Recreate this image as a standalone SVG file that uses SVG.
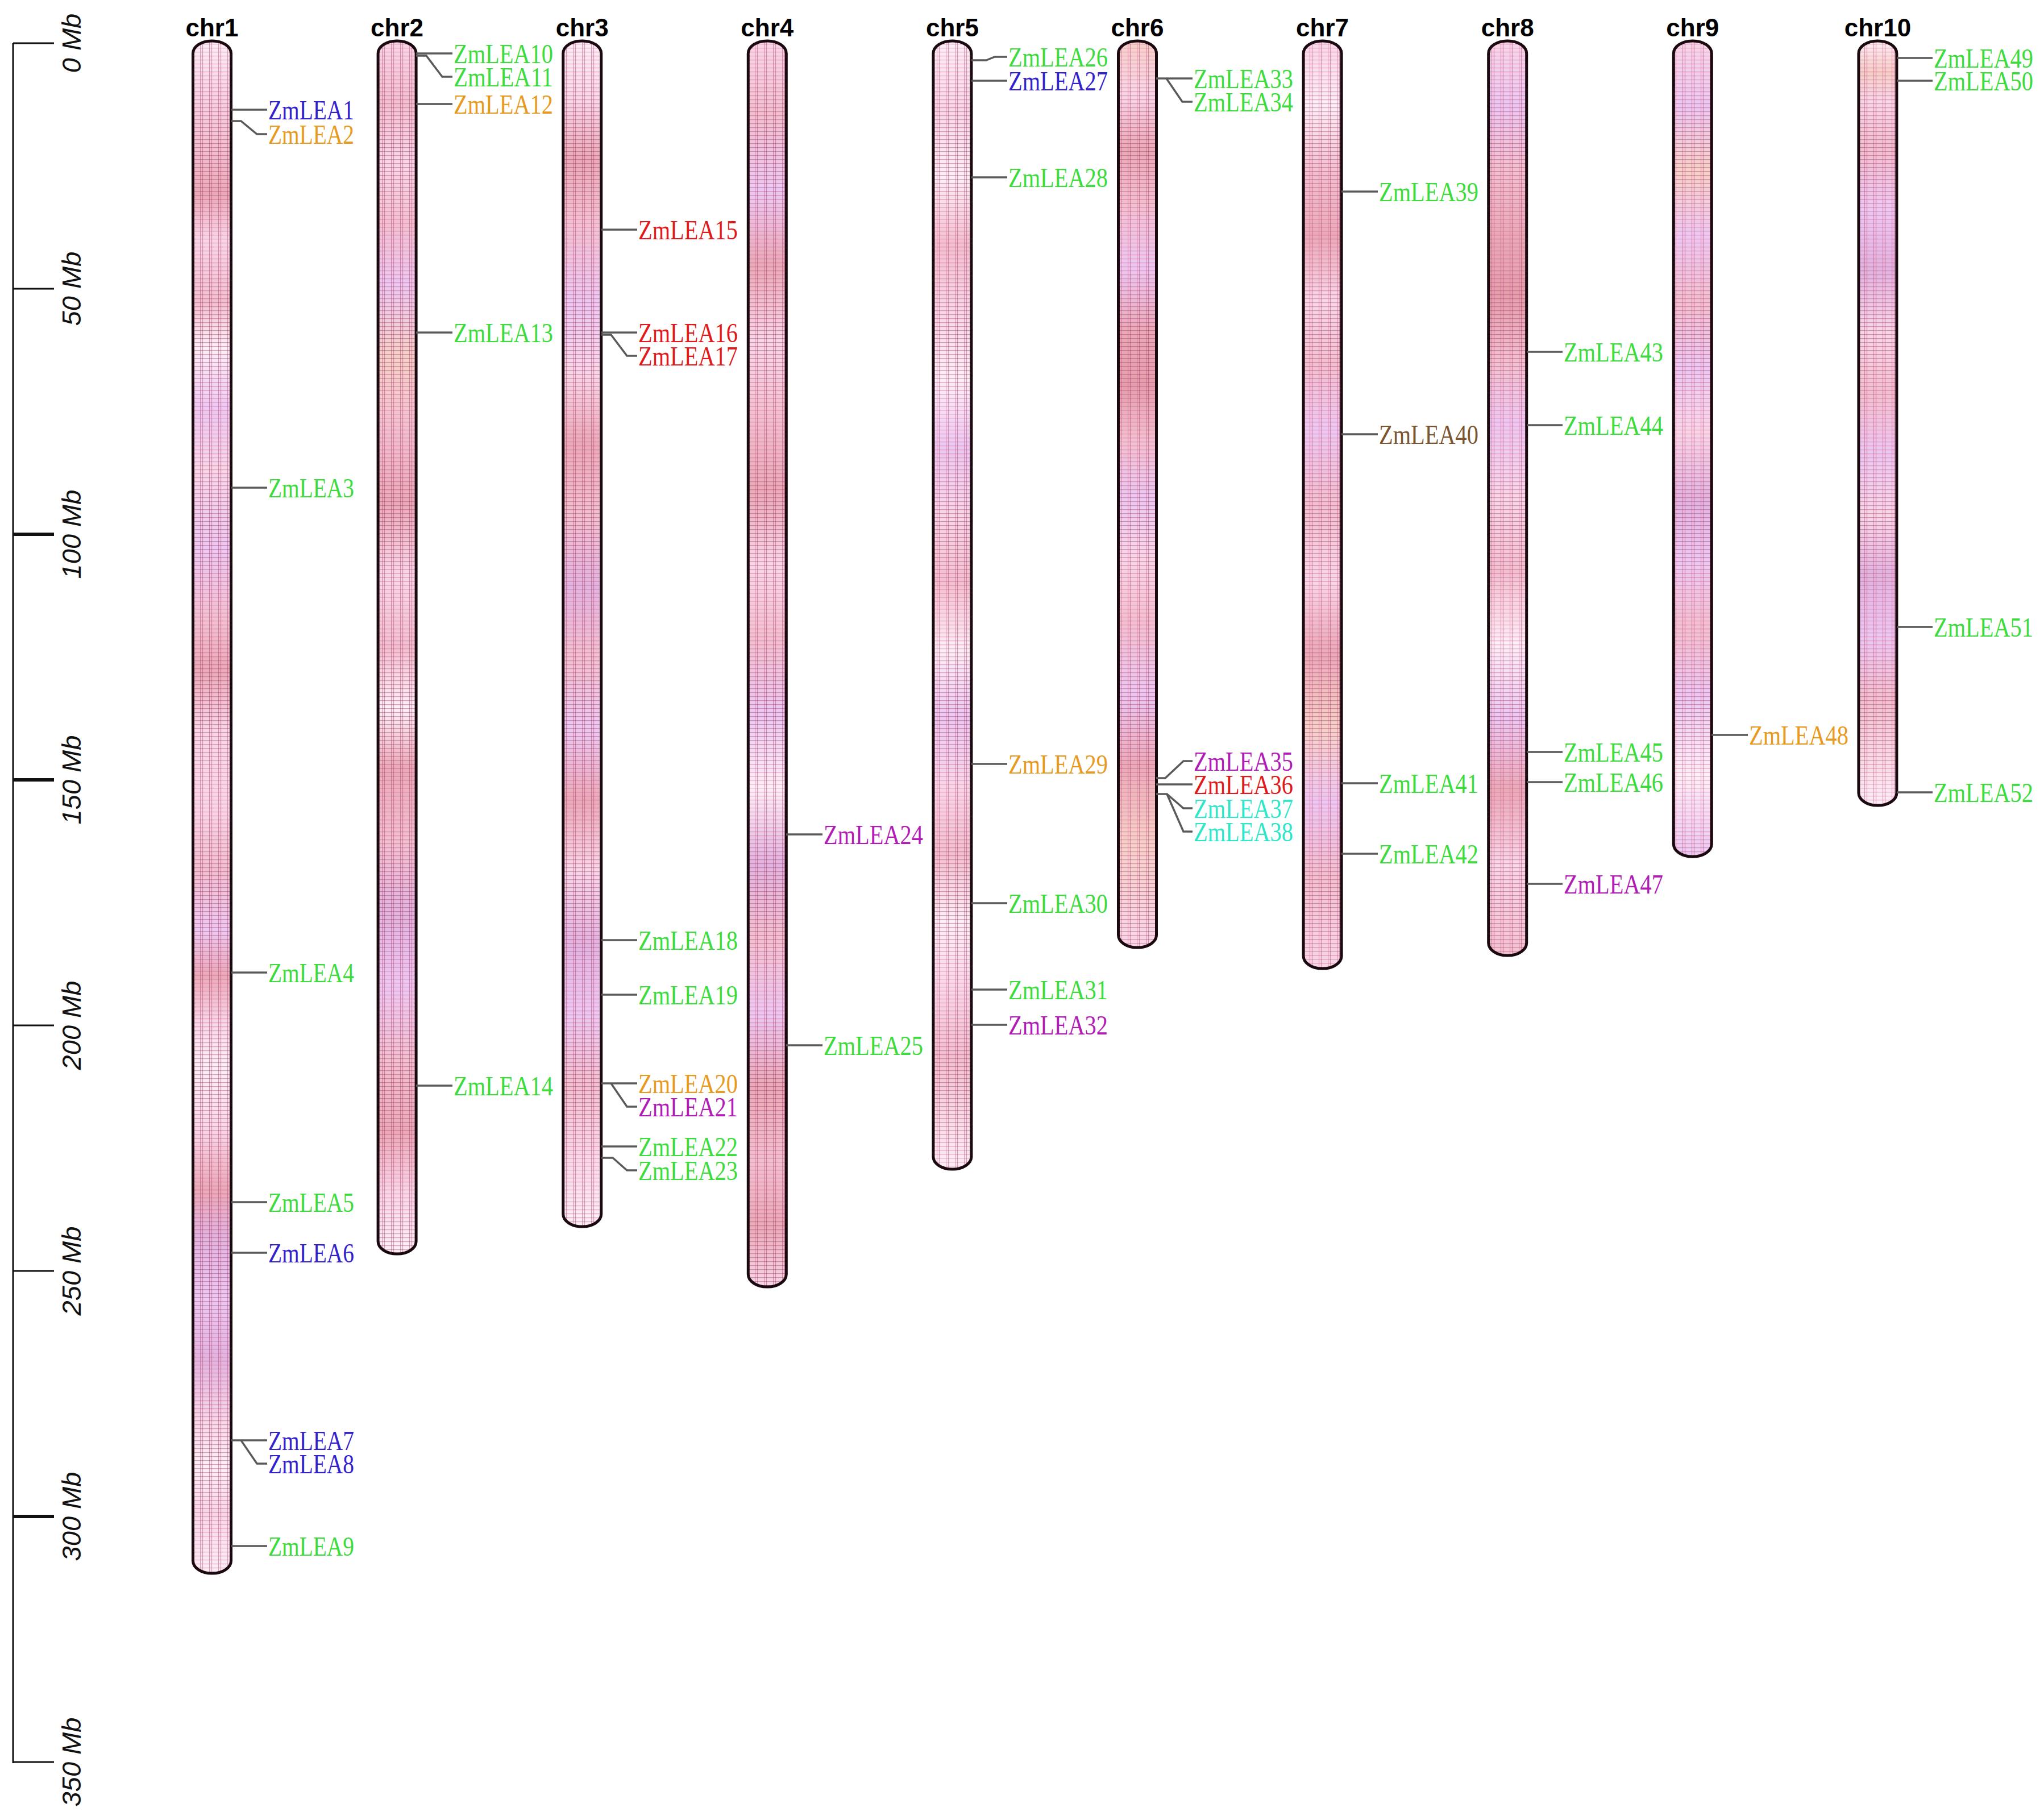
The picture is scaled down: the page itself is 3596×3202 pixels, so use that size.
<svg xmlns="http://www.w3.org/2000/svg" width="3596" height="3202" viewBox="0 0 3596 3202">
<style>
.chrlab{font-family:"Liberation Sans",Arial,sans-serif;font-weight:bold;font-size:44px;text-anchor:middle;fill:#000}
.ax{font-family:"Liberation Sans",Arial,sans-serif;font-style:italic;font-size:47px;text-anchor:middle;fill:#111}
.g{font-family:"Liberation Serif","Times New Roman",serif;font-size:48px}
.gr{fill:#3cdc3c}.bl{fill:#3322cc}.or{fill:#e89a1e}.rd{fill:#e01a1a}.mg{fill:#b01cb4}.cy{fill:#2ee6c8}.br{fill:#7a5530}
.con{fill:none;stroke:#5a5a5a;stroke-width:3.5}
.outline{fill:none;stroke:#1a0a10;stroke-width:5}
.grid{fill:url(#grid);stroke:none}
.tick{stroke:#111;stroke-width:3}
.tickb{stroke:#111;stroke-width:6}
</style>
<defs>
<pattern id="grid" patternUnits="userSpaceOnUse" width="16" height="7">
<path d="M0.5,0 V7 M4.5,0 V7" stroke="#a02a5a" stroke-opacity="0.42" stroke-width="1.2"/>
<path d="M0,0.5 H16" stroke="#a02a5a" stroke-opacity="0.4" stroke-width="1.3"/>
</pattern>
<linearGradient id="b1" x1="0" y1="0" x2="0" y2="1">
<stop offset="0" stop-color="#fdeef7"/><stop offset=".03" stop-color="#f8d6e8"/><stop offset=".07" stop-color="#f2c0d0"/><stop offset=".10" stop-color="#eaaab8"/><stop offset=".13" stop-color="#f8d6e8"/><stop offset=".17" stop-color="#f2c0d0"/><stop offset=".20" stop-color="#fdeef7"/><stop offset=".24" stop-color="#ecc8f2"/><stop offset=".28" stop-color="#f8d6e8"/><stop offset=".33" stop-color="#ecc8f2"/><stop offset=".38" stop-color="#f2c0d0"/><stop offset=".41" stop-color="#eaaab8"/><stop offset=".45" stop-color="#f8d6e8"/><stop offset=".50" stop-color="#f8d6e8"/><stop offset=".54" stop-color="#f2c0d0"/><stop offset=".58" stop-color="#ecc8f2"/><stop offset=".61" stop-color="#eaaab8"/><stop offset=".64" stop-color="#f8d6e8"/><stop offset=".67" stop-color="#fdeef7"/><stop offset=".71" stop-color="#f8d6e8"/><stop offset=".75" stop-color="#eaaab8"/><stop offset=".78" stop-color="#e2b4e0"/><stop offset=".82" stop-color="#ecc8f2"/><stop offset=".86" stop-color="#e2b4e0"/><stop offset=".90" stop-color="#f8d6e8"/><stop offset=".93" stop-color="#fdeef7"/><stop offset=".96" stop-color="#f8d6e8"/><stop offset="1" stop-color="#fdeef7"/>
</linearGradient>
<linearGradient id="b2" x1="0" y1="0" x2="0" y2="1">
<stop offset="0" stop-color="#f8d6e8"/><stop offset=".05" stop-color="#f2c0d0"/><stop offset=".10" stop-color="#f8d6e8"/><stop offset=".15" stop-color="#f2c0d0"/><stop offset=".20" stop-color="#ecc8f2"/><stop offset=".26" stop-color="#f6d0c8"/><stop offset=".32" stop-color="#f2c0d0"/><stop offset=".38" stop-color="#eaaab8"/><stop offset=".44" stop-color="#f8d6e8"/><stop offset=".50" stop-color="#f2c0d0"/><stop offset=".55" stop-color="#fdeef7"/><stop offset=".60" stop-color="#eaaab8"/><stop offset=".66" stop-color="#f2c0d0"/><stop offset=".72" stop-color="#e2b4e0"/><stop offset=".78" stop-color="#ecc8f2"/><stop offset=".84" stop-color="#f2c0d0"/><stop offset=".90" stop-color="#eaaab8"/><stop offset=".95" stop-color="#f8d6e8"/><stop offset="1" stop-color="#fdeef7"/>
</linearGradient>
<linearGradient id="b3" x1="0" y1="0" x2="0" y2="1">
<stop offset="0" stop-color="#fdeef7"/><stop offset=".05" stop-color="#f8d6e8"/><stop offset=".10" stop-color="#eaaab8"/><stop offset=".15" stop-color="#f2c0d0"/><stop offset=".22" stop-color="#ecc8f2"/><stop offset=".28" stop-color="#f8d6e8"/><stop offset=".34" stop-color="#eaaab8"/><stop offset=".40" stop-color="#f2c0d0"/><stop offset=".46" stop-color="#e2b4e0"/><stop offset=".52" stop-color="#f2c0d0"/><stop offset=".58" stop-color="#ecc8f2"/><stop offset=".64" stop-color="#eaaab8"/><stop offset=".70" stop-color="#f8d6e8"/><stop offset=".76" stop-color="#e2b4e0"/><stop offset=".82" stop-color="#ecc8f2"/><stop offset=".88" stop-color="#f2c0d0"/><stop offset=".94" stop-color="#f8d6e8"/><stop offset="1" stop-color="#fdeef7"/>
</linearGradient>
<linearGradient id="b4" x1="0" y1="0" x2="0" y2="1">
<stop offset="0" stop-color="#f8d6e8"/><stop offset=".06" stop-color="#f2c0d0"/><stop offset=".12" stop-color="#ecc8f2"/><stop offset=".18" stop-color="#eaaab8"/><stop offset=".24" stop-color="#f8d6e8"/><stop offset=".30" stop-color="#f2c0d0"/><stop offset=".36" stop-color="#eaaab8"/><stop offset=".42" stop-color="#f8d6e8"/><stop offset=".48" stop-color="#f2c0d0"/><stop offset=".54" stop-color="#ecc8f2"/><stop offset=".60" stop-color="#fdeef7"/><stop offset=".66" stop-color="#e2b4e0"/><stop offset=".72" stop-color="#f2c0d0"/><stop offset=".78" stop-color="#ecc8f2"/><stop offset=".84" stop-color="#eaaab8"/><stop offset=".90" stop-color="#f2c0d0"/><stop offset=".95" stop-color="#eaaab8"/><stop offset="1" stop-color="#f8d6e8"/>
</linearGradient>
<linearGradient id="b5" x1="0" y1="0" x2="0" y2="1">
<stop offset="0" stop-color="#fdeef7"/><stop offset=".06" stop-color="#f8d6e8"/><stop offset=".12" stop-color="#fdeef7"/><stop offset=".18" stop-color="#f2c0d0"/><stop offset=".24" stop-color="#f8d6e8"/><stop offset=".30" stop-color="#fdeef7"/><stop offset=".36" stop-color="#ecc8f2"/><stop offset=".42" stop-color="#f8d6e8"/><stop offset=".48" stop-color="#f2c0d0"/><stop offset=".54" stop-color="#fdeef7"/><stop offset=".60" stop-color="#ecc8f2"/><stop offset=".66" stop-color="#f8d6e8"/><stop offset=".72" stop-color="#f2c0d0"/><stop offset=".78" stop-color="#fdeef7"/><stop offset=".84" stop-color="#f8d6e8"/><stop offset=".90" stop-color="#f2c0d0"/><stop offset="1" stop-color="#fdeef7"/>
</linearGradient>
<linearGradient id="b6" x1="0" y1="0" x2="0" y2="1">
<stop offset="0" stop-color="#f6d0c8"/><stop offset=".06" stop-color="#f8d6e8"/><stop offset=".12" stop-color="#eaaab8"/><stop offset=".18" stop-color="#f2c0d0"/><stop offset=".25" stop-color="#ecc8f2"/><stop offset=".32" stop-color="#eaaab8"/><stop offset=".38" stop-color="#e49eac"/><stop offset=".44" stop-color="#f2c0d0"/><stop offset=".50" stop-color="#ecc8f2"/><stop offset=".57" stop-color="#f8d6e8"/><stop offset=".64" stop-color="#f2c0d0"/><stop offset=".72" stop-color="#ecc8f2"/><stop offset=".80" stop-color="#eaaab8"/><stop offset=".88" stop-color="#f6d0c8"/><stop offset="1" stop-color="#f8d6e8"/>
</linearGradient>
<linearGradient id="b7" x1="0" y1="0" x2="0" y2="1">
<stop offset="0" stop-color="#f8d6e8"/><stop offset=".07" stop-color="#fdeef7"/><stop offset=".14" stop-color="#f2c0d0"/><stop offset=".21" stop-color="#eaaab8"/><stop offset=".28" stop-color="#f8d6e8"/><stop offset=".35" stop-color="#f2c0d0"/><stop offset=".42" stop-color="#ecc8f2"/><stop offset=".50" stop-color="#f2c0d0"/><stop offset=".58" stop-color="#f8d6e8"/><stop offset=".66" stop-color="#eaaab8"/><stop offset=".74" stop-color="#f6d0c8"/><stop offset=".82" stop-color="#ecc8f2"/><stop offset=".90" stop-color="#f2c0d0"/><stop offset="1" stop-color="#f8d6e8"/>
</linearGradient>
<linearGradient id="b8" x1="0" y1="0" x2="0" y2="1">
<stop offset="0" stop-color="#f8d6e8"/><stop offset=".07" stop-color="#ecc8f2"/><stop offset=".14" stop-color="#f2c0d0"/><stop offset=".21" stop-color="#eaaab8"/><stop offset=".28" stop-color="#e49eac"/><stop offset=".35" stop-color="#f2c0d0"/><stop offset=".42" stop-color="#ecc8f2"/><stop offset=".50" stop-color="#f8d6e8"/><stop offset=".58" stop-color="#f2c0d0"/><stop offset=".66" stop-color="#fdeef7"/><stop offset=".74" stop-color="#ecc8f2"/><stop offset=".82" stop-color="#eaaab8"/><stop offset=".90" stop-color="#f8d6e8"/><stop offset="1" stop-color="#f2c0d0"/>
</linearGradient>
<linearGradient id="b9" x1="0" y1="0" x2="0" y2="1">
<stop offset="0" stop-color="#f8d6e8"/><stop offset=".08" stop-color="#ecc8f2"/><stop offset=".16" stop-color="#f6d0c8"/><stop offset=".24" stop-color="#ecc8f2"/><stop offset=".32" stop-color="#f2c0d0"/><stop offset=".40" stop-color="#ecc8f2"/><stop offset=".48" stop-color="#f8d6e8"/><stop offset=".56" stop-color="#e2b4e0"/><stop offset=".64" stop-color="#ecc8f2"/><stop offset=".72" stop-color="#f2c0d0"/><stop offset=".80" stop-color="#ecc8f2"/><stop offset=".90" stop-color="#fdeef7"/><stop offset="1" stop-color="#ecc8f2"/>
</linearGradient>
<linearGradient id="b10" x1="0" y1="0" x2="0" y2="1">
<stop offset="0" stop-color="#fdeef7"/><stop offset=".04" stop-color="#f6d0c8"/><stop offset=".08" stop-color="#f8d6e8"/><stop offset=".14" stop-color="#f2c0d0"/><stop offset=".22" stop-color="#ecc8f2"/><stop offset=".30" stop-color="#e2b4e0"/><stop offset=".38" stop-color="#f8d6e8"/><stop offset=".46" stop-color="#f2c0d0"/><stop offset=".54" stop-color="#ecc8f2"/><stop offset=".62" stop-color="#f8d6e8"/><stop offset=".70" stop-color="#e2b4e0"/><stop offset=".78" stop-color="#ecc8f2"/><stop offset=".86" stop-color="#f2c0d0"/><stop offset="1" stop-color="#fdeef7"/>
</linearGradient>
</defs>
<rect width="3596" height="3202" fill="#fff"/>

<g id="scale">
<line x1="23" y1="76" x2="23" y2="3102" class="tick"/>
<line x1="23" y1="76" x2="95" y2="76" class="tick"/>
<line x1="23" y1="508" x2="95" y2="508" class="tick"/>
<line x1="23" y1="940" x2="95" y2="940" class="tickb"/>
<line x1="23" y1="1372" x2="95" y2="1372" class="tickb"/>
<line x1="23" y1="1804" x2="95" y2="1804" class="tick"/>
<line x1="23" y1="2236" x2="95" y2="2236" class="tick"/>
<line x1="23" y1="2668" x2="95" y2="2668" class="tickb"/>
<line x1="23" y1="3100" x2="95" y2="3100" class="tick"/>
<text class="ax" transform="translate(142,76) rotate(-90)">0 Mb</text>
<text class="ax" transform="translate(142,508) rotate(-90)">50 Mb</text>
<text class="ax" transform="translate(142,940) rotate(-90)">100 Mb</text>
<text class="ax" transform="translate(142,1372) rotate(-90)">150 Mb</text>
<text class="ax" transform="translate(142,1804) rotate(-90)">200 Mb</text>
<text class="ax" transform="translate(142,2236) rotate(-90)">250 Mb</text>
<text class="ax" transform="translate(142,2668) rotate(-90)">300 Mb</text>
<text class="ax" transform="translate(142,3100) rotate(-90)">350 Mb</text>
</g>

<g id="chr1"><rect x="339.5" y="72" width="67" height="2696" rx="33" ry="22" fill="url(#b1)"/><rect x="339.5" y="72" width="67" height="2696" rx="33" ry="22" class="grid"/><rect x="339.5" y="72" width="67" height="2696" rx="33" ry="22" class="outline"/><text class="chrlab" x="373" y="64">chr1</text></g>
<g id="chr2"><rect x="665.1" y="72" width="67" height="2134" rx="33" ry="22" fill="url(#b2)"/><rect x="665.1" y="72" width="67" height="2134" rx="33" ry="22" class="grid"/><rect x="665.1" y="72" width="67" height="2134" rx="33" ry="22" class="outline"/><text class="chrlab" x="698.6" y="64">chr2</text></g>
<g id="chr3"><rect x="990.7" y="72" width="67" height="2086" rx="33" ry="22" fill="url(#b3)"/><rect x="990.7" y="72" width="67" height="2086" rx="33" ry="22" class="grid"/><rect x="990.7" y="72" width="67" height="2086" rx="33" ry="22" class="outline"/><text class="chrlab" x="1024.2" y="64">chr3</text></g>
<g id="chr4"><rect x="1316.3" y="72" width="67" height="2192" rx="33" ry="22" fill="url(#b4)"/><rect x="1316.3" y="72" width="67" height="2192" rx="33" ry="22" class="grid"/><rect x="1316.3" y="72" width="67" height="2192" rx="33" ry="22" class="outline"/><text class="chrlab" x="1349.8" y="64">chr4</text></g>
<g id="chr5"><rect x="1641.9" y="72" width="67" height="1985" rx="33" ry="22" fill="url(#b5)"/><rect x="1641.9" y="72" width="67" height="1985" rx="33" ry="22" class="grid"/><rect x="1641.9" y="72" width="67" height="1985" rx="33" ry="22" class="outline"/><text class="chrlab" x="1675.4" y="64">chr5</text></g>
<g id="chr6"><rect x="1967.5" y="72" width="67" height="1595" rx="33" ry="22" fill="url(#b6)"/><rect x="1967.5" y="72" width="67" height="1595" rx="33" ry="22" class="grid"/><rect x="1967.5" y="72" width="67" height="1595" rx="33" ry="22" class="outline"/><text class="chrlab" x="2001" y="64">chr6</text></g>
<g id="chr7"><rect x="2293.1" y="72" width="67" height="1632" rx="33" ry="22" fill="url(#b7)"/><rect x="2293.1" y="72" width="67" height="1632" rx="33" ry="22" class="grid"/><rect x="2293.1" y="72" width="67" height="1632" rx="33" ry="22" class="outline"/><text class="chrlab" x="2326.6" y="64">chr7</text></g>
<g id="chr8"><rect x="2618.7" y="72" width="67" height="1609" rx="33" ry="22" fill="url(#b8)"/><rect x="2618.7" y="72" width="67" height="1609" rx="33" ry="22" class="grid"/><rect x="2618.7" y="72" width="67" height="1609" rx="33" ry="22" class="outline"/><text class="chrlab" x="2652.2" y="64">chr8</text></g>
<g id="chr9"><rect x="2944.3" y="72" width="67" height="1435" rx="33" ry="22" fill="url(#b9)"/><rect x="2944.3" y="72" width="67" height="1435" rx="33" ry="22" class="grid"/><rect x="2944.3" y="72" width="67" height="1435" rx="33" ry="22" class="outline"/><text class="chrlab" x="2977.8" y="64">chr9</text></g>
<g id="chr10"><rect x="3269.9" y="72" width="67" height="1345" rx="33" ry="22" fill="url(#b10)"/><rect x="3269.9" y="72" width="67" height="1345" rx="33" ry="22" class="grid"/><rect x="3269.9" y="72" width="67" height="1345" rx="33" ry="22" class="outline"/><text class="chrlab" x="3303.4" y="64">chr10</text></g>

<g id="connectors" class="con">
<path d="M407,193 H470"/>
<path d="M407,213 H424 L452,236 H470"/>
<path d="M407,858 H470"/>
<path d="M407,1711 H470"/>
<path d="M407,2115 H470"/>
<path d="M407,2204 H470"/>
<path d="M407,2534 H470"/>
<path d="M424,2534 L452,2575 H470"/>
<path d="M407,2720 H470"/>
<path d="M732,94 H796"/>
<path d="M732,98 H750 L778,135 H796"/>
<path d="M732,183 H796"/>
<path d="M732,585 H796"/>
<path d="M732,1910 H796"/>
<path d="M1058,404 H1121"/>
<path d="M1058,585 H1121"/>
<path d="M1058,589 H1075 L1103,626 H1121"/>
<path d="M1058,1654 H1121"/>
<path d="M1058,1750 H1121"/>
<path d="M1058,1906 H1121"/>
<path d="M1075,1906 L1103,1947 H1121"/>
<path d="M1058,2017 H1121"/>
<path d="M1058,2037 H1078 L1103,2059 H1121"/>
<path d="M1383,1468 H1447"/>
<path d="M1383,1839 H1447"/>
<path d="M1709,106 H1735 L1750,100 H1772"/>
<path d="M1709,142 H1772"/>
<path d="M1709,312 H1772"/>
<path d="M1709,1344 H1772"/>
<path d="M1709,1589 H1772"/>
<path d="M1709,1741 H1772"/>
<path d="M1709,1803 H1772"/>
<path d="M2034,138 H2098"/>
<path d="M2052,138 L2080,179 H2098"/>
<path d="M2034,1369 H2050 L2082,1339 H2098"/>
<path d="M2034,1380 H2098"/>
<path d="M2034,1397 H2053 L2082,1422 H2098"/>
<path d="M2053,1397 L2082,1463 H2098"/>
<path d="M2360,337 H2424"/>
<path d="M2360,764 H2424"/>
<path d="M2360,1378 H2424"/>
<path d="M2360,1502 H2424"/>
<path d="M2686,619 H2749"/>
<path d="M2686,748 H2749"/>
<path d="M2686,1323 H2749"/>
<path d="M2686,1376 H2749"/>
<path d="M2686,1555 H2749"/>
<path d="M3011,1293 H3075"/>
<path d="M3337,102 H3400"/>
<path d="M3337,142 H3400"/>
<path d="M3337,1103 H3400"/>
<path d="M3337,1394 H3400"/>
</g>

<g id="labels">
<text id="ZmLEA1" class="g bl" x="472" y="210" textLength="151" lengthAdjust="spacingAndGlyphs">ZmLEA1</text>
<text id="ZmLEA2" class="g or" x="472" y="253" textLength="151" lengthAdjust="spacingAndGlyphs">ZmLEA2</text>
<text id="ZmLEA3" class="g gr" x="472" y="875" textLength="151" lengthAdjust="spacingAndGlyphs">ZmLEA3</text>
<text id="ZmLEA4" class="g gr" x="472" y="1728" textLength="151" lengthAdjust="spacingAndGlyphs">ZmLEA4</text>
<text id="ZmLEA5" class="g gr" x="472" y="2132" textLength="151" lengthAdjust="spacingAndGlyphs">ZmLEA5</text>
<text id="ZmLEA6" class="g bl" x="472" y="2221" textLength="151" lengthAdjust="spacingAndGlyphs">ZmLEA6</text>
<text id="ZmLEA7" class="g bl" x="472" y="2551" textLength="151" lengthAdjust="spacingAndGlyphs">ZmLEA7</text>
<text id="ZmLEA8" class="g bl" x="472" y="2592" textLength="151" lengthAdjust="spacingAndGlyphs">ZmLEA8</text>
<text id="ZmLEA9" class="g gr" x="472" y="2737" textLength="151" lengthAdjust="spacingAndGlyphs">ZmLEA9</text>
<text id="ZmLEA10" class="g gr" x="798" y="111" textLength="175" lengthAdjust="spacingAndGlyphs">ZmLEA10</text>
<text id="ZmLEA11" class="g gr" x="798" y="152" textLength="175" lengthAdjust="spacingAndGlyphs">ZmLEA11</text>
<text id="ZmLEA12" class="g or" x="798" y="200" textLength="175" lengthAdjust="spacingAndGlyphs">ZmLEA12</text>
<text id="ZmLEA13" class="g gr" x="798" y="602" textLength="175" lengthAdjust="spacingAndGlyphs">ZmLEA13</text>
<text id="ZmLEA14" class="g gr" x="798" y="1927" textLength="175" lengthAdjust="spacingAndGlyphs">ZmLEA14</text>
<text id="ZmLEA15" class="g rd" x="1123" y="421" textLength="175" lengthAdjust="spacingAndGlyphs">ZmLEA15</text>
<text id="ZmLEA16" class="g rd" x="1123" y="602" textLength="175" lengthAdjust="spacingAndGlyphs">ZmLEA16</text>
<text id="ZmLEA17" class="g rd" x="1123" y="643" textLength="175" lengthAdjust="spacingAndGlyphs">ZmLEA17</text>
<text id="ZmLEA18" class="g gr" x="1123" y="1671" textLength="175" lengthAdjust="spacingAndGlyphs">ZmLEA18</text>
<text id="ZmLEA19" class="g gr" x="1123" y="1767" textLength="175" lengthAdjust="spacingAndGlyphs">ZmLEA19</text>
<text id="ZmLEA20" class="g or" x="1123" y="1923" textLength="175" lengthAdjust="spacingAndGlyphs">ZmLEA20</text>
<text id="ZmLEA21" class="g mg" x="1123" y="1964" textLength="175" lengthAdjust="spacingAndGlyphs">ZmLEA21</text>
<text id="ZmLEA22" class="g gr" x="1123" y="2034" textLength="175" lengthAdjust="spacingAndGlyphs">ZmLEA22</text>
<text id="ZmLEA23" class="g gr" x="1123" y="2076" textLength="175" lengthAdjust="spacingAndGlyphs">ZmLEA23</text>
<text id="ZmLEA24" class="g mg" x="1449" y="1485" textLength="175" lengthAdjust="spacingAndGlyphs">ZmLEA24</text>
<text id="ZmLEA25" class="g gr" x="1449" y="1856" textLength="175" lengthAdjust="spacingAndGlyphs">ZmLEA25</text>
<text id="ZmLEA26" class="g gr" x="1774" y="117" textLength="175" lengthAdjust="spacingAndGlyphs">ZmLEA26</text>
<text id="ZmLEA27" class="g bl" x="1774" y="159" textLength="175" lengthAdjust="spacingAndGlyphs">ZmLEA27</text>
<text id="ZmLEA28" class="g gr" x="1774" y="329" textLength="175" lengthAdjust="spacingAndGlyphs">ZmLEA28</text>
<text id="ZmLEA29" class="g or" x="1774" y="1361" textLength="175" lengthAdjust="spacingAndGlyphs">ZmLEA29</text>
<text id="ZmLEA30" class="g gr" x="1774" y="1606" textLength="175" lengthAdjust="spacingAndGlyphs">ZmLEA30</text>
<text id="ZmLEA31" class="g gr" x="1774" y="1758" textLength="175" lengthAdjust="spacingAndGlyphs">ZmLEA31</text>
<text id="ZmLEA32" class="g mg" x="1774" y="1820" textLength="175" lengthAdjust="spacingAndGlyphs">ZmLEA32</text>
<text id="ZmLEA33" class="g gr" x="2100" y="155" textLength="175" lengthAdjust="spacingAndGlyphs">ZmLEA33</text>
<text id="ZmLEA34" class="g gr" x="2100" y="196" textLength="175" lengthAdjust="spacingAndGlyphs">ZmLEA34</text>
<text id="ZmLEA35" class="g mg" x="2100" y="1356" textLength="175" lengthAdjust="spacingAndGlyphs">ZmLEA35</text>
<text id="ZmLEA36" class="g rd" x="2100" y="1397" textLength="175" lengthAdjust="spacingAndGlyphs">ZmLEA36</text>
<text id="ZmLEA37" class="g cy" x="2100" y="1439" textLength="175" lengthAdjust="spacingAndGlyphs">ZmLEA37</text>
<text id="ZmLEA38" class="g cy" x="2100" y="1480" textLength="175" lengthAdjust="spacingAndGlyphs">ZmLEA38</text>
<text id="ZmLEA39" class="g gr" x="2426" y="354" textLength="175" lengthAdjust="spacingAndGlyphs">ZmLEA39</text>
<text id="ZmLEA40" class="g br" x="2426" y="781" textLength="175" lengthAdjust="spacingAndGlyphs">ZmLEA40</text>
<text id="ZmLEA41" class="g gr" x="2426" y="1395" textLength="175" lengthAdjust="spacingAndGlyphs">ZmLEA41</text>
<text id="ZmLEA42" class="g gr" x="2426" y="1519" textLength="175" lengthAdjust="spacingAndGlyphs">ZmLEA42</text>
<text id="ZmLEA43" class="g gr" x="2751" y="636" textLength="175" lengthAdjust="spacingAndGlyphs">ZmLEA43</text>
<text id="ZmLEA44" class="g gr" x="2751" y="765" textLength="175" lengthAdjust="spacingAndGlyphs">ZmLEA44</text>
<text id="ZmLEA45" class="g gr" x="2751" y="1340" textLength="175" lengthAdjust="spacingAndGlyphs">ZmLEA45</text>
<text id="ZmLEA46" class="g gr" x="2751" y="1393" textLength="175" lengthAdjust="spacingAndGlyphs">ZmLEA46</text>
<text id="ZmLEA47" class="g mg" x="2751" y="1572" textLength="175" lengthAdjust="spacingAndGlyphs">ZmLEA47</text>
<text id="ZmLEA48" class="g or" x="3077" y="1310" textLength="175" lengthAdjust="spacingAndGlyphs">ZmLEA48</text>
<text id="ZmLEA49" class="g gr" x="3402" y="119" textLength="175" lengthAdjust="spacingAndGlyphs">ZmLEA49</text>
<text id="ZmLEA50" class="g gr" x="3402" y="159" textLength="175" lengthAdjust="spacingAndGlyphs">ZmLEA50</text>
<text id="ZmLEA51" class="g gr" x="3402" y="1120" textLength="175" lengthAdjust="spacingAndGlyphs">ZmLEA51</text>
<text id="ZmLEA52" class="g gr" x="3402" y="1411" textLength="175" lengthAdjust="spacingAndGlyphs">ZmLEA52</text>
</g>
</svg>
